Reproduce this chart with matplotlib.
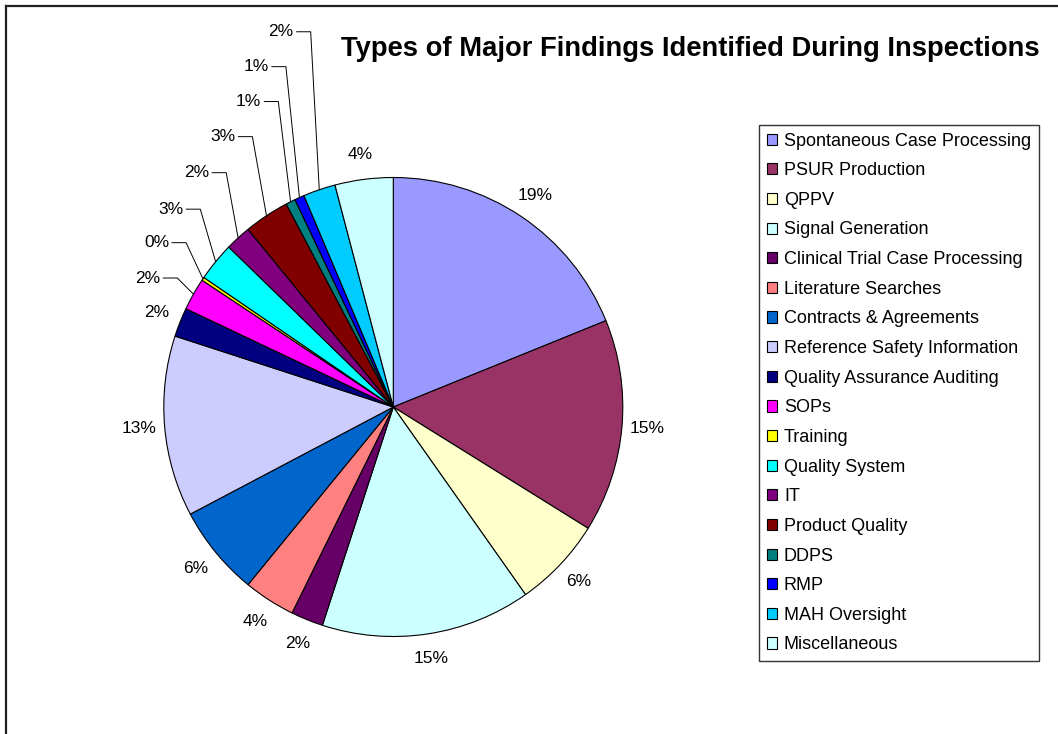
import matplotlib

matplotlib.use("Agg")
import matplotlib.pyplot as plt  # noqa: E402
import numpy as np  # noqa: E402

plt.rcParams["font.family"] = ["Liberation Sans", "DejaVu Sans"]

categories = [
    "Spontaneous Case Processing",
    "PSUR Production",
    "QPPV",
    "Signal Generation",
    "Clinical Trial Case Processing",
    "Literature Searches",
    "Contracts & Agreements",
    "Reference Safety Information",
    "Quality Assurance Auditing",
    "SOPs",
    "Training",
    "Quality System",
    "IT",
    "Product Quality",
    "DDPS",
    "RMP",
    "MAH Oversight",
    "Miscellaneous",
]
counts = [83, 66, 28, 65, 10, 16, 28, 56, 9, 10, 1, 12, 8, 14, 3, 3, 10, 18]
colors = [
    "#9999FF", "#993366", "#FFFFCC", "#CCFFFF", "#660066", "#FF8080",
    "#0066CC", "#CCCCFF", "#000080", "#FF00FF", "#FFFF00", "#00FFFF",
    "#800080", "#800000", "#008080", "#0000FF", "#00CCFF", "#CCFFFF",
]

# small slices up top get their labels pulled out on leader lines;
# elbow of each leader, in pie radii from the centre
leader_elbows = {
    "SOPs": (-0.941, 0.562),
    "Training": (-0.903, 0.716),
    "Quality System": (-0.841, 0.862),
    "IT": (-0.728, 1.021),
    "Product Quality": (-0.614, 1.178),
    "DDPS": (-0.501, 1.331),
    "RMP": (-0.468, 1.483),
    "MAH Oversight": (-0.360, 1.635),
}

W, H = 1058, 734
CX, CY, R = 393.3, 407.0, 229.5  # pie centre and radius, pixels from top-left

fig = plt.figure(figsize=(W / 100, H / 100), dpi=100)
ax = fig.add_axes([0, 0, 1, 1])
wedges, _ = ax.pie(
    counts, colors=colors, startangle=90, counterclock=False,
    wedgeprops=dict(edgecolor="black", linewidth=0.8),
)
# one data unit == one pie radius, so the canvas maps straight to pixels
ax.set_xlim(-CX / R, (W - CX) / R)
ax.set_ylim((CY - H) / R, CY / R)
ax.set_aspect("auto")
ax.axis("off")

total = sum(counts)
label_fs = 12.5
for name, n, w in zip(categories, counts, wedges):
    pct = f"{int(n / total * 100 + 0.5)}%"
    mid = np.deg2rad((w.theta1 + w.theta2) / 2)
    ex, ey = np.cos(mid), np.sin(mid)
    if name in leader_elbows:
        bx, by = leader_elbows[name]
        run = 14 / R
        ax.plot([bx - run, bx, ex], [by, by, ey], color="black", lw=0.7)
        ax.text(bx - run - 3 / R, by, pct, ha="right", va="center",
                fontsize=label_fs)
    else:
        ax.text(1.11 * ex, 1.11 * ey, pct, ha="center", va="center",
                fontsize=label_fs)

fig.text(690 / W, 1 - 55.7 / H,
         "Types of Major Findings Identified During Inspections",
         ha="center", va="baseline", fontsize=19.7, fontweight="bold")

leg = fig.legend(
    wedges, categories, loc="upper left",
    bbox_to_anchor=(759 / W, 1 - 125 / H), bbox_transform=fig.transFigure,
    borderaxespad=0, fontsize=13.0, frameon=True, fancybox=False,
    edgecolor="#333333", framealpha=1, borderpad=0.42,
    handlelength=0.58, handleheight=0.58, handletextpad=0.38,
    labelspacing=0.70,
)
leg.get_frame().set_linewidth(1.0)

# chart-area border (left and top edges only fall inside the canvas)
fig.add_artist(plt.Line2D([6 / W, 6 / W], [0, 1 - 6 / H],
                          transform=fig.transFigure, color="#222222", lw=1.6))
fig.add_artist(plt.Line2D([6 / W, 1], [1 - 6 / H, 1 - 6 / H],
                          transform=fig.transFigure, color="#222222", lw=1.6))

fig.savefig("out.png", dpi=100)
